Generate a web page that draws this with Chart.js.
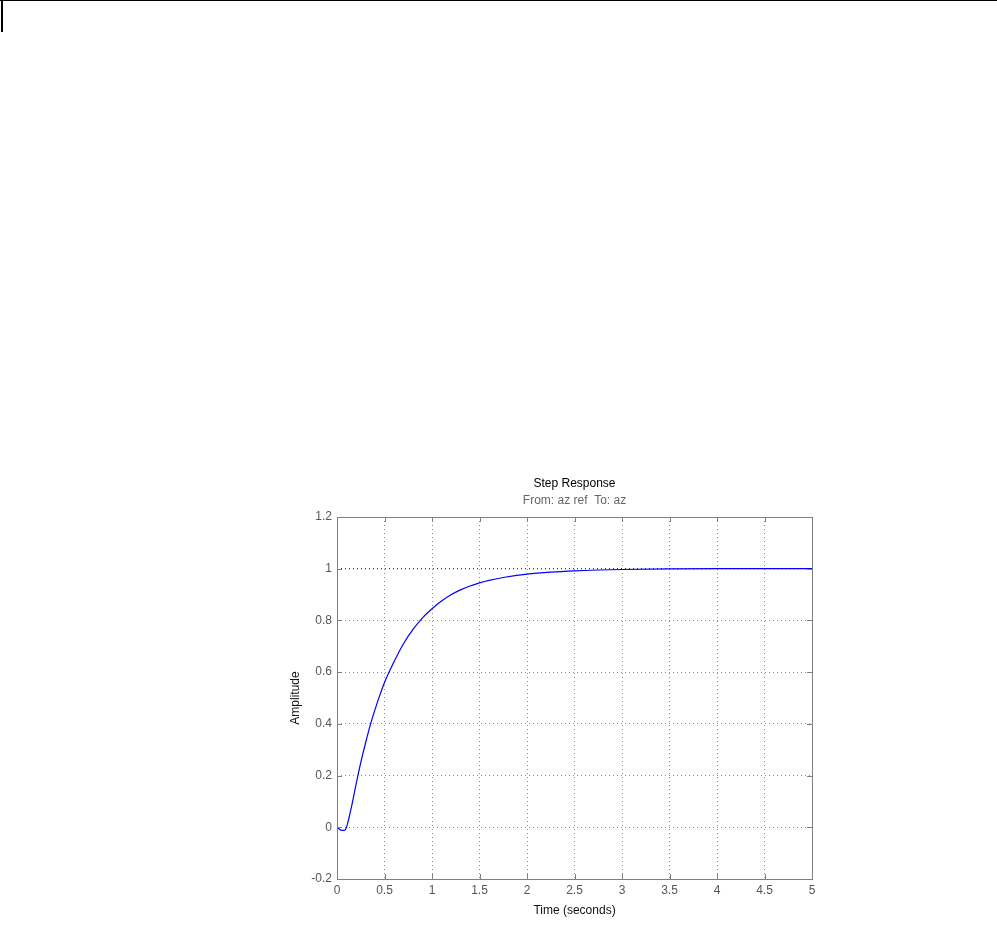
<!DOCTYPE html>
<html>
<head>
<meta charset="utf-8">
<script src="https://cdn.jsdelivr.net/npm/chart.js@4/dist/chart.umd.min.js"></script>
<style>
	html, body { margin: 0; padding: 0; background: #fff; }
	#wrap { position: relative; width: 997px; height: 931px; }
	#topline { position: absolute; left: 0; top: 0; width: 997px; height: 1px; background: #000; }
	#sideline { position: absolute; left: 1px; top: 0; width: 2px; height: 32px; background: #000; }
	#chart-step { position: absolute; left: 0; top: 0; }
</style>
</head>
<body>
<div id="wrap">
	<div id="topline"></div>
	<div id="sideline"></div>
	<canvas id="chart-step" width="997" height="931"></canvas>
</div>
<script>
// Step response
const TIME = [0, 0.05, 0.08, 0.1, 0.125, 0.15, 0.2, 0.25, 0.3, 0.35, 0.4, 0.45, 0.5, 0.6, 0.7, 0.8, 0.9, 1.0, 1.1, 1.2, 1.3, 1.4, 1.5, 1.6, 1.75, 2.0, 2.25, 2.5, 2.75, 3.0, 3.5, 4.0, 4.5, 5.0];
const AMPLITUDE = [0, -0.012, -0.012, 0.0, 0.035, 0.075, 0.165, 0.25, 0.325, 0.395, 0.455, 0.51, 0.56, 0.64, 0.71, 0.765, 0.81, 0.845, 0.875, 0.899, 0.918, 0.933, 0.945, 0.955, 0.966, 0.979, 0.987, 0.992, 0.995, 0.997, 0.999, 1.0, 1.0, 1.0];
const FINAL_VALUE = [1, 1];
const FINAL_TIME = [0, 5];

const X_TICKS = [0, 0.5, 1, 1.5, 2, 2.5, 3, 3.5, 4, 4.5, 5];
const Y_TICKS = [-0.2, 0, 0.2, 0.4, 0.6, 0.8, 1, 1.2];

const TITLE = "Step Response";
const SUBTITLE = "From: az ref  To: az";
const X_LABEL = "Time (seconds)";
const Y_LABEL = "Amplitude";

Chart.defaults.font.family = '"Liberation Sans", Arial, sans-serif';
Chart.defaults.font.size = 12;

const FRAME = "#808080";
const GRID = "#8c8c8c";

// MATLAB style box with inward ticks on all four sides
const frameBox = {
	id: "frameBox",
	afterDatasetsDraw(chart) {
		const { ctx, chartArea: a, scales: { x, y } } = chart;
		ctx.save();
		ctx.strokeStyle = FRAME;
		ctx.lineWidth = 1;
		ctx.strokeRect(Math.round(a.left) + 0.5, Math.round(a.top) + 0.5, Math.round(a.right - a.left), Math.round(a.bottom - a.top));
		ctx.beginPath();
		X_TICKS.forEach((v) => {
			const px = Math.round(x.getPixelForValue(v)) + 0.5;
			ctx.moveTo(px, a.bottom);
			ctx.lineTo(px, a.bottom - 5);
			ctx.moveTo(px, a.top);
			ctx.lineTo(px, a.top + 5);
		});
		Y_TICKS.forEach((v) => {
			const py = Math.round(y.getPixelForValue(v)) + 0.5;
			ctx.moveTo(a.left, py);
			ctx.lineTo(a.left + 5, py);
			ctx.moveTo(a.right, py);
			ctx.lineTo(a.right - 5, py);
		});
		ctx.stroke();
		ctx.restore();
	},
};

const CHART_DATA = {
	datasets: [
		{
			label: "final value",
			data: FINAL_TIME.map((t, i) => ({ x: t, y: FINAL_VALUE[i] })),
			borderColor: "#222",
			borderWidth: 1,
			borderDash: [1, 3],
			pointRadius: 0,
			order: 2,
		},
		{
			label: "az",
			data: TIME.map((t, i) => ({ x: t, y: AMPLITUDE[i] })),
			borderColor: "#0000ff",
			borderWidth: 1.2,
			pointRadius: 0,
			cubicInterpolationMode: "monotone",
			order: 1,
		},
	],
};

const CHART_CONFIG = {
	type: "line",
	data: CHART_DATA,
	plugins: [frameBox],
	options: {
		responsive: false,
		animation: false,
		layout: {
			// right side spacer axis keeps the titles centred over the plot box
			padding: { left: 287, right: 135, top: 476.8, bottom: 7 },
		},
		plugins: {
			legend: { display: false },
			tooltip: { enabled: false },
			title: {
				display: true,
				text: TITLE,
				color: "#000",
				font: { size: 12, weight: "normal" },
				padding: { top: 0, bottom: 2 },
			},
			subtitle: {
				display: true,
				text: SUBTITLE,
				color: "#666",
				font: { size: 12 },
				padding: { top: 0, bottom: 9.4 },
			},
		},
		scales: {
			x: {
				type: "linear",
				min: 0,
				max: 5,
				afterFit: (scale) => { scale.height = 45; },
				afterBuildTicks: (scale) => { scale.ticks = X_TICKS.map((v) => ({ value: v })); },
				border: { display: false, dash: [1, 3] },
				grid: { color: GRID, drawTicks: false, lineWidth: 1 },
				ticks: {
					color: "#555",
					padding: 4,
					maxRotation: 0,
					callback: (v) => String(v),
				},
				title: {
					display: true,
					text: X_LABEL,
					color: "#111",
					padding: { top: 0, bottom: 6 },
				},
			},
			y: {
				type: "linear",
				min: -0.2,
				max: 1.2,
				afterFit: (scale) => { scale.width = 50; },
				afterBuildTicks: (scale) => { scale.ticks = Y_TICKS.map((v) => ({ value: v })); },
				border: { display: false, dash: [1, 3] },
				grid: { color: GRID, drawTicks: false, lineWidth: 1 },
				ticks: {
					color: "#555",
					padding: 5,
					callback: (v) => String(parseFloat(v.toFixed(1))),
				},
				title: {
					display: true,
					text: Y_LABEL,
					color: "#111",
					padding: { top: 1, bottom: 0 },
				},
			},
			spacer: {
				type: "linear",
				position: "right",
				display: true,
				afterFit: (scale) => { scale.width = 50; },
				border: { display: false },
				grid: { display: false },
				ticks: { display: false },
			},
		},
	},
};

const CHART_WRAPPER = document.getElementById("chart-step");
if (CHART_WRAPPER) {
	new Chart(CHART_WRAPPER, CHART_CONFIG);
}
</script>
</body>
</html>
